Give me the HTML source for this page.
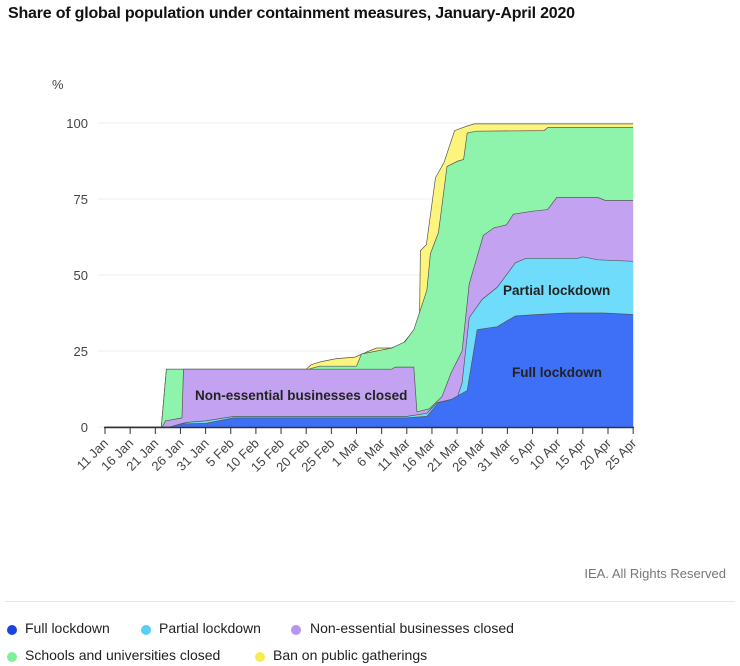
<!DOCTYPE html>
<html><head><meta charset="utf-8"><style>
body{margin:0;background:#fff;font-family:"Liberation Sans",sans-serif;}
.wrap{position:relative;width:740px;height:666px;overflow:hidden}
.t{position:absolute;white-space:nowrap}
.dot{position:absolute;width:10px;height:10px;border-radius:50%}
</style></head><body><div class="wrap">
<div class="t" style="left:8px;top:5px;font-size:16px;color:#111;font-weight:bold;letter-spacing:-0.2px">Share of global population under containment measures, January-April 2020</div>
<svg id="s" width="740" height="560" style="position:absolute;left:0;top:0" font-family="Liberation Sans, sans-serif"></svg>
<div class="t" style="right:14px;top:566px;font-size:13px;color:#777">IEA. All Rights Reserved</div>
<div style="position:absolute;left:5px;right:5px;top:601px;height:1px;background:#e6e6e6"></div>
<div class="dot" style="left:7px;top:625px;background:#1744e0"></div><div class="t" style="left:25px;top:620px;font-size:14px;color:#222">Full lockdown</div>
<div class="dot" style="left:141px;top:625px;background:#55cff5"></div><div class="t" style="left:159px;top:620px;font-size:14px;color:#222">Partial lockdown</div>
<div class="dot" style="left:291px;top:625px;background:#b795ee"></div><div class="t" style="left:310px;top:620px;font-size:14px;color:#222">Non-essential businesses closed</div>
<div class="dot" style="left:7px;top:652px;background:#7ef09a"></div><div class="t" style="left:25px;top:647px;font-size:14px;color:#222">Schools and universities closed</div>
<div class="dot" style="left:255px;top:652px;background:#f7ec55"></div><div class="t" style="left:273px;top:647px;font-size:14px;color:#222">Ban on public gatherings</div>
</div>
<script>
const X=d=>105+d*5.03, Y=v=>427-v*3.04;
const S={
yellow:[[0,0],[11.2,0],[12.2,19],[40,19],[41,20.5],[43,21.5],[46,22.5],[49.7,23],[52.5,25],[54,26],[56.8,26],[59,27],[61,31],[62.5,33],[62.7,58],[63.9,60],[65.7,82],[67.4,87],[69.5,97.5],[72,99],[73.4,99.7],[105,99.7]],
green:[[0,0],[11.2,0],[12.2,19],[40.5,19],[42.6,20],[50,20],[51,24],[54,25],[57,26],[59.6,28],[61.4,32],[64,45],[64.7,57],[66.3,64],[68,85.7],[70.2,87.5],[71.3,88],[72,96.7],[73.8,97.3],[87.3,97.5],[88,98.5],[105,98.5]],
purple:[[0,0],[11.4,0],[12,2],[15.3,3],[15.6,19],[57,19],[57.7,19.7],[61.4,19.7],[62,5],[64.5,6],[67,10],[68.8,17.8],[71,25],[72.4,47],[73.8,55],[75.2,63],[77.3,65.5],[79.8,66.5],[81.2,70],[85,71],[88,71.5],[89.8,75.5],[98,75.5],[99.5,74.5],[105,74.5]],
cyan:[[0,0],[13,0],[15,1],[16.3,1.5],[20,2],[25.6,3.5],[60,3.5],[64,4.5],[66,8],[70,9.5],[71,14.5],[72.4,36],[75,42],[78,46],[81.6,54],[83.7,55.5],[94,55.5],[95,56],[98,55],[105,54.5]],
blue:[[0,0],[13,0],[15,1],[20,1.2],[25.6,3],[60,3],[64,3.5],[66.3,8],[68.8,9],[72,12],[74,32],[78,33],[80,35],[81.6,36.5],[86,37],[92,37.5],[99,37.5],[105,37]]};
const col={yellow:"#fcf47c",green:"#8ef4ac",purple:"#c3a3f1",cyan:"#70dcfb",blue:"#3d70f6"};
let h='';
[0,25,50,75,100].forEach(v=>{h+=`<line x1="98" x2="634" y1="${Y(v)}" y2="${Y(v)}" stroke="#ececec"/>`;
h+=`<text x="88" y="${Y(v)+5}" text-anchor="end" font-size="13" fill="#444">${v}</text>`;});
h+=`<text x="52" y="89" font-size="13" fill="#444">%</text>`;
for(const k of ["yellow","green","purple","cyan","blue"]){const p=S[k];
let d='M'+X(0)+','+Y(0)+' '+p.map(a=>'L'+X(a[0]).toFixed(1)+','+Y(a[1]).toFixed(1)).join(' ')+' L'+X(105)+','+Y(0)+'Z';
h+=`<path d="${d}" fill="${col[k]}"/>`;
h+=`<path d="M${p.map(a=>X(a[0]).toFixed(1)+','+Y(a[1]).toFixed(1)).join(' L')}" fill="none" stroke="#555" stroke-width="0.7"/>`;}
h+=`<line x1="104" x2="634" y1="427.5" y2="427.5" stroke="#333" stroke-width="1.5"/>`;
const lab=["11 Jan","16 Jan","21 Jan","26 Jan","31 Jan","5 Feb","10 Feb","15 Feb","20 Feb","25 Feb","1 Mar","6 Mar","11 Mar","16 Mar","21 Mar","26 Mar","31 Mar","5 Apr","10 Apr","15 Apr","20 Apr","25 Apr"];
lab.forEach((l,i)=>{const x=X(i*5);h+=`<line x1="${x}" x2="${x}" y1="427" y2="434" stroke="#333"/>`;
h+=`<text transform="translate(${x+4},${444}) rotate(-45)" text-anchor="end" font-size="13" fill="#444">${l}</text>`;});
h+=`<text x="195" y="400" font-size="13.5" font-weight="bold" fill="#222">Non-essential businesses closed</text>`;
h+=`<text x="503" y="295" font-size="13.5" font-weight="bold" fill="#222">Partial lockdown</text>`;
h+=`<text x="512" y="377" font-size="13.5" font-weight="bold" fill="#222">Full lockdown</text>`;
document.getElementById('s').innerHTML=h;
</script></body></html>
